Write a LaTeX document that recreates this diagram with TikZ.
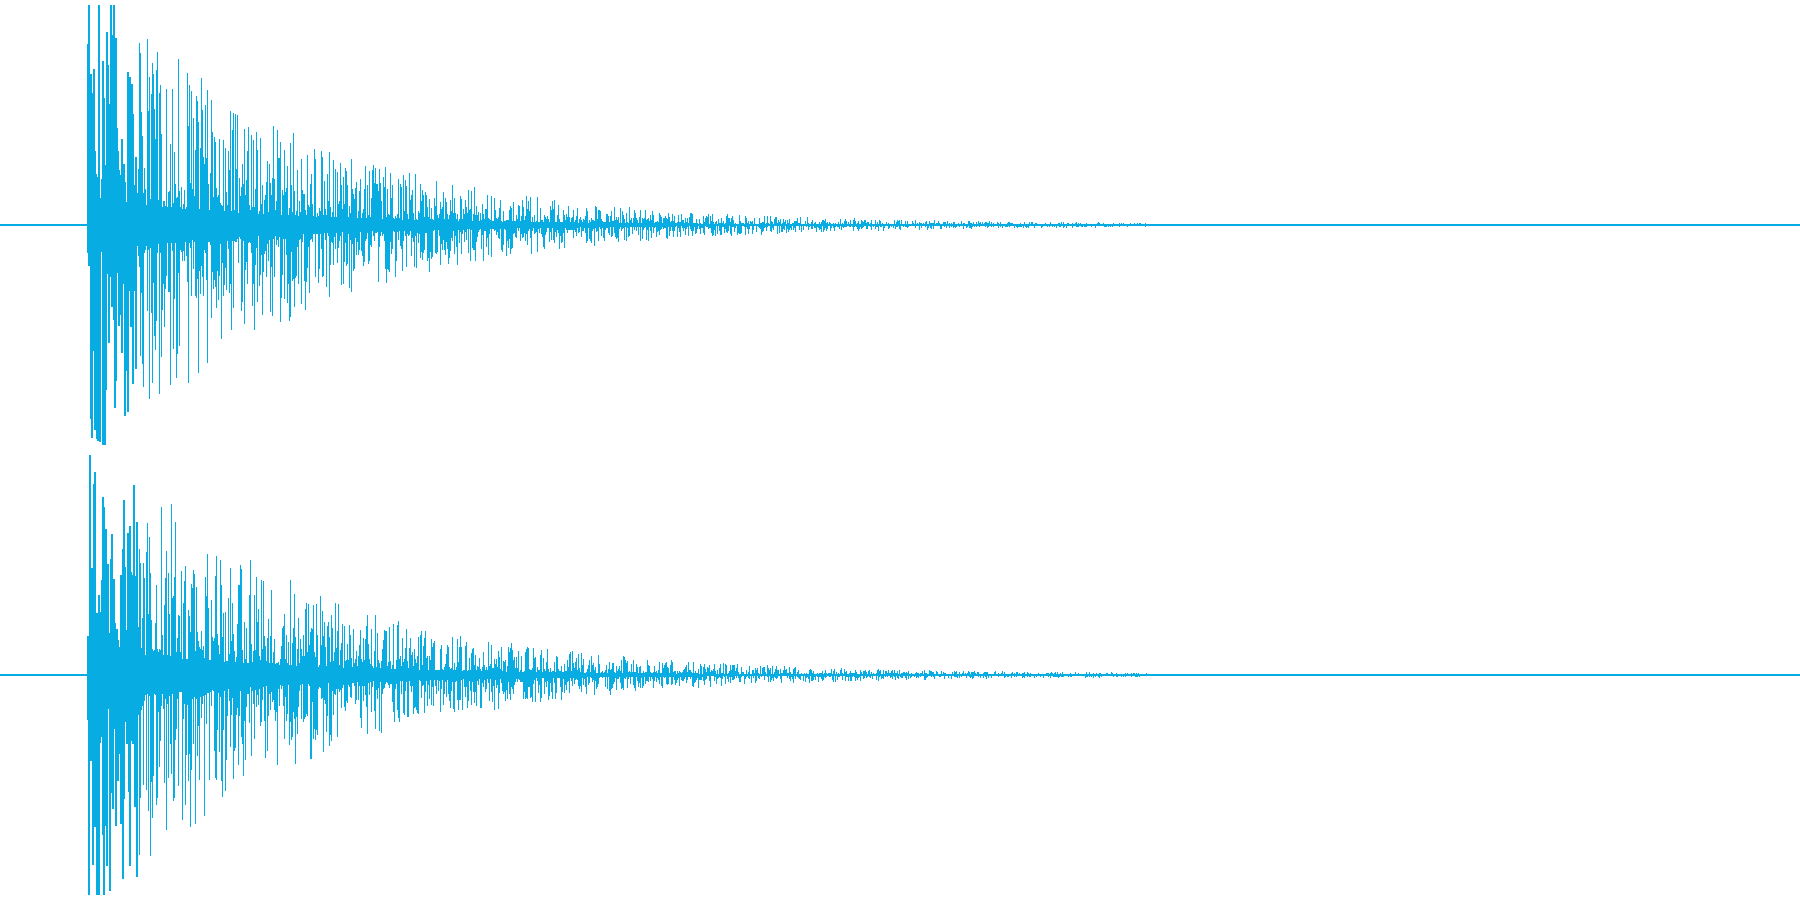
\documentclass[tikz,border=0pt]{standalone}
\usepackage{tikz}
\definecolor{wave}{HTML}{06ACE2}
\tikzset{wavestroke/.style={draw=wave,line width=0.3pt}}
\begin{document}
\begin{tikzpicture}
  \useasboundingbox (0,0) rectangle (18,9);
  \pgfmathsetseed{4711}

  % channel baselines
  \draw[wavestroke] (0,6.75) -- (18,6.75);
  \draw[wavestroke] (0,2.25) -- (18,2.25);

  % channel samples
  \foreach \yc in {6.75,2.25}{
    \foreach \i in {0,...,1060}{
      \pgfmathsetmacro\x{0.88+0.01*\i}
      \pgfmathsetmacro\env{2.6*exp(-(\x-0.88)/2.0)+0.01}
      \pgfmathsetmacro\up{min(2.2,\env*(0.1+0.9*rnd^2))}
      \pgfmathsetmacro\dn{min(2.2,\env*(0.1+0.9*rnd^2))}
      \draw[wavestroke] (\x,\yc+\up) -- (\x,\yc-\dn);
    }
  }
\end{tikzpicture}
\end{document}
